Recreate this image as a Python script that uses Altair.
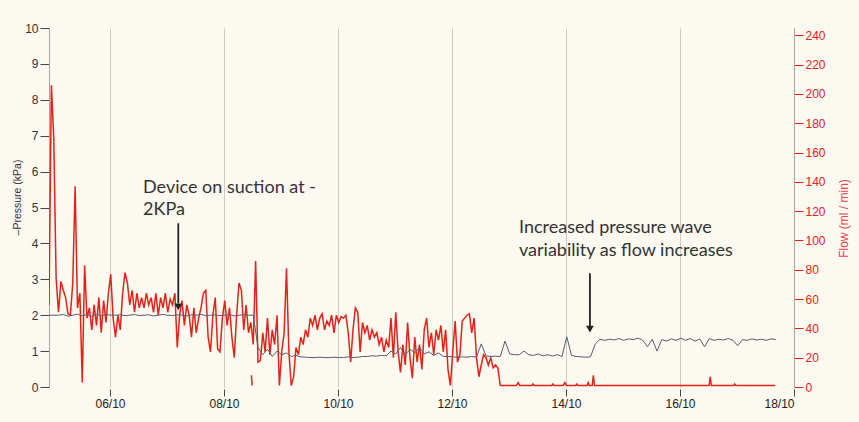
import altair as alt
import pandas as pd

# ---- sampling grid -------------------------------------------------------
START_DAY = 4.93          # first sample (day of October)
FLOW_STEP_DAYS = 1 / 24   # hourly flow samples
PRESS_STEP_DAYS = 2 / 24  # two-hourly pressure samples

# ---- flow (ml/min), hourly until the flow collapses ------------------------
flow_hourly = [
    56, 206, 170, 74, 51, 72, 66, 61, 50, 49, 71, 137, 54, 64, 3, 83, 47, 54, 39, 56,
    42, 61, 37, 59, 44, 64, 77, 47, 34, 49, 39, 64, 78, 71, 56, 66, 51, 64, 54, 61,
    54, 64, 56, 61, 51, 64, 49, 61, 54, 64, 51, 60, 56, 64, 27, 49, 59, 42, 56, 49,
    34, 54, 37, 47, 54, 64, 66, 34, 24, 49, 61, 26, 24, 47, 59, 42, 54, 34, 20, 49,
    71, 66, 39, 56, 37, 44, 29, 86, 17, 18, 37, 24, 47, 22, 39, 29, 49, 1, 24, 37,
    81, 24, 1, 7, 27, 22, 34, 29, 39, 34, 47, 42, 49, 39, 47, 50, 39, 45, 42, 49,
    37, 49, 44, 48, 47, 49, 37, 17, 39, 54, 51, 24, 44, 37, 42, 32, 39, 34, 37, 29,
    34, 24, 32, 27, 47, 20, 51, 24, 10, 29, 15, 44, 20, 6, 34, 17, 29, 12, 39, 47,
    27, 37, 22, 39, 32, 42, 24, 39, 12, 1, 24, 45, 17, 22, 45, 47, 49, 50, 37, 47,
    20, 7, 15, 22, 20, 15, 20, 13, 15, 13, 1,
]

# flow after the collapse: near-zero baseline with a few small spikes
flow_tail_day = [12.90, 13.13, 13.16, 13.19, 13.40, 13.42, 13.44, 13.75, 13.77, 13.79,
                 13.95, 13.98, 14.01, 14.17, 14.19, 14.21, 14.37, 14.39, 14.41, 14.46,
                 14.48, 14.50, 16.51, 16.53, 16.55, 16.94, 16.96, 16.98, 17.67]
flow_tail = [1, 1, 3, 1, 1, 2, 1, 1, 2, 1,
             1, 3, 1, 1, 2, 1, 1, 3, 1, 1,
             8, 1, 1, 7, 1, 1, 2, 1, 1]

# short detached flow fragment
flow_frag_day = [8.48, 8.495]
flow_frag = [8, 1]

# ---- pressure (-kPa), two-hourly ------------------------------------------
pressure = [
    2.0, 2.0, 2.0, 2.02, 1.97, 2.0, 2.03, 1.98, 2.02, 1.97, 2.03, 1.98, 2.02,
    2.0, 2.0, 2.01, 1.99, 2.0, 2.02, 1.99, 2.0, 2.01, 1.98, 2.0, 2.02, 2.0, 1.99, 2.01,
    2.0, 1.98, 2.01, 2.0, 2.02, 1.99, 2.0, 2.01, 1.99, 2.0, 2.02, 1.98, 2.0, 2.01, 2.0,
    2.0,
    1.1, 0.9, 1.05, 0.85, 1.0, 0.9, 0.95, 0.85, 0.88, 0.84,
    0.83, 0.82, 0.82, 0.83, 0.82, 0.82, 0.83, 0.82, 0.82, 0.84,
    0.82, 0.83, 0.85, 0.85, 0.87, 0.86, 0.88, 0.87, 1.0, 0.92,
    1.1, 0.9, 1.05, 0.95, 1.1, 0.92, 0.98, 0.88, 0.95, 0.85,
    0.85, 0.84, 0.83, 0.84, 0.83, 0.85, 0.83, 1.2, 0.87, 0.85,
    0.86, 0.85, 1.28, 0.92, 0.9, 0.9, 1.0, 0.9, 0.88, 0.92,
    0.87, 0.9, 0.86, 0.9, 0.85, 1.4, 0.88, 0.85, 0.84, 0.83,
    0.84, 1.2, 1.33, 1.3, 1.33, 1.31, 1.35, 1.3, 1.34, 1.32,
    1.36, 1.3, 1.12, 1.33, 1.0, 1.32, 1.28, 1.34, 1.3, 1.36,
    1.3, 1.35, 1.28, 1.34, 1.12, 1.35, 1.3, 1.33, 1.31, 1.35,
    1.3, 1.15, 1.32, 1.3, 1.34, 1.31, 1.33, 1.3, 1.34, 1.32,
]

# ---- annotations (x in days, y in kPa) ------------------------------------
note_text = ["Device on suction at -", "2KPa",
             "Increased pressure wave", "variability as flow increases"]
note_day = [6.58, 6.58, 13.175, 13.175]
note_kpa = [5.40, 4.78, 4.28, 3.65]

arrow_day = [7.198, 14.42]
arrow_top = [4.56, 3.17]
arrow_shaft_end = [2.33, 1.69]
arrow_head = [2.23, 1.61]

X_TICKS = [6, 8, 10, 12, 14, 16, 18]
P_TICKS = list(range(0, 11))
F_TICKS = list(range(0, 241, 20))

# ---- tables ----------------------------------------------------------------
flow_df = pd.concat([
    pd.DataFrame({"day": [START_DAY + i * FLOW_STEP_DAYS for i in range(len(flow_hourly))],
                  "flow": flow_hourly, "seg": 0}),
    pd.DataFrame({"day": flow_tail_day, "flow": flow_tail, "seg": 0}),
    pd.DataFrame({"day": flow_frag_day, "flow": flow_frag, "seg": 1}),
], ignore_index=True)

press_df = pd.DataFrame({"day": [START_DAY + i * PRESS_STEP_DAYS for i in range(len(pressure))],
                         "kpa": pressure})
note_df = pd.DataFrame({"day": note_day, "kpa": note_kpa, "text": note_text})
arrow_df = pd.DataFrame({"day": arrow_day, "kpa": arrow_top, "end": arrow_shaft_end})
head_df = pd.DataFrame({"day": arrow_day, "kpa": arrow_head})

# ---- scales & axes ---------------------------------------------------------
AXIS_FONT = "Liberation Sans"
RED = "#e2231a"

x_enc = alt.X(
    "day:Q",
    scale=alt.Scale(domain=[4.93, 18], nice=False, zero=False),
    axis=alt.Axis(values=X_TICKS,
                  labelExpr="(datum.value < 10 ? '0' : '') + datum.value + '/10'",
                  grid=True, gridColor="#cfcbc3", gridWidth=1,
                  domain=False, ticks=True, tickColor="#444", tickSize=7, offset=2,
                  labelFont=AXIS_FONT, labelFontSize=12, labelColor="#222",
                  labelPadding=2, title=""),
)

flow_scale = alt.Scale(domain=[0, 245], nice=False, zero=True)
press_scale = alt.Scale(domain=[0, 10], nice=False, zero=True)

flow_axis = alt.Axis(orient="right", values=F_TICKS, grid=False,
                     domainColor="#a8a8a8", domainWidth=1,
                     tickColor=RED, tickSize=9, tickWidth=1,
                     labelFont=AXIS_FONT, labelFontSize=12, labelColor=RED, labelPadding=2,
                     title="Flow (ml / min)", titleFont=AXIS_FONT, titleFontSize=12,
                     titleFontWeight="normal", titleColor="#e0434b", titleAngle=270,
                     titleX=49, titleY=190, titleBaseline="middle", titleAlign="center")

press_axis = alt.Axis(orient="left", values=P_TICKS, grid=False,
                      domainColor="#a8a8a8", domainWidth=1,
                      tickColor="#444", tickSize=9, tickWidth=1,
                      labelFont=AXIS_FONT, labelFontSize=12, labelColor="#333", labelPadding=2,
                      title="–Pressure (kPa)", titleFont=AXIS_FONT, titleFontSize=10.5,
                      titleFontWeight="normal", titleColor="#333", titleAngle=270,
                      titleX=-32, titleY=169, titleBaseline="middle", titleAlign="center")

press_y = alt.Y("kpa:Q", scale=press_scale, axis=press_axis)

# ---- layers ----------------------------------------------------------------
flow_line = alt.Chart(flow_df).mark_line(color=RED, strokeWidth=1.5, clip=True).encode(
    x=x_enc,
    y=alt.Y("flow:Q", scale=flow_scale, axis=flow_axis),
    detail="seg:N",
    order="day:Q",
)

press_line = alt.Chart(press_df).mark_line(color="#565c6b", strokeWidth=1, clip=True).encode(
    x=x_enc,
    y=press_y,
)

notes = alt.Chart(note_df).mark_text(
    align="left", baseline="alphabetic", font="Lato", fontSize=18, color="#333"
).encode(
    x=x_enc,
    y=press_y,
    text="text:N",
)

shafts = alt.Chart(arrow_df).mark_rule(color="#222", strokeWidth=1.8).encode(
    x=x_enc,
    y=press_y,
    y2="end:Q",
)

heads = alt.Chart(head_df).mark_point(
    shape="triangle-down", filled=True, size=60, color="#222", opacity=1
).encode(
    x=x_enc,
    y=press_y,
)

pressure_group = alt.layer(press_line, shafts, heads, notes)

chart = (
    alt.layer(flow_line, pressure_group)
    .resolve_scale(y="independent")
    .properties(
        width=745, height=359,
        autosize=alt.AutoSizeParams(type="none"),
        padding={"left": 49, "top": 28, "right": 65, "bottom": 35},
        background="#fbf9f0",
    )
    .configure_view(strokeWidth=0)
)

chart.save("out.html", embed_options={"renderer": "svg", "actions": False})
